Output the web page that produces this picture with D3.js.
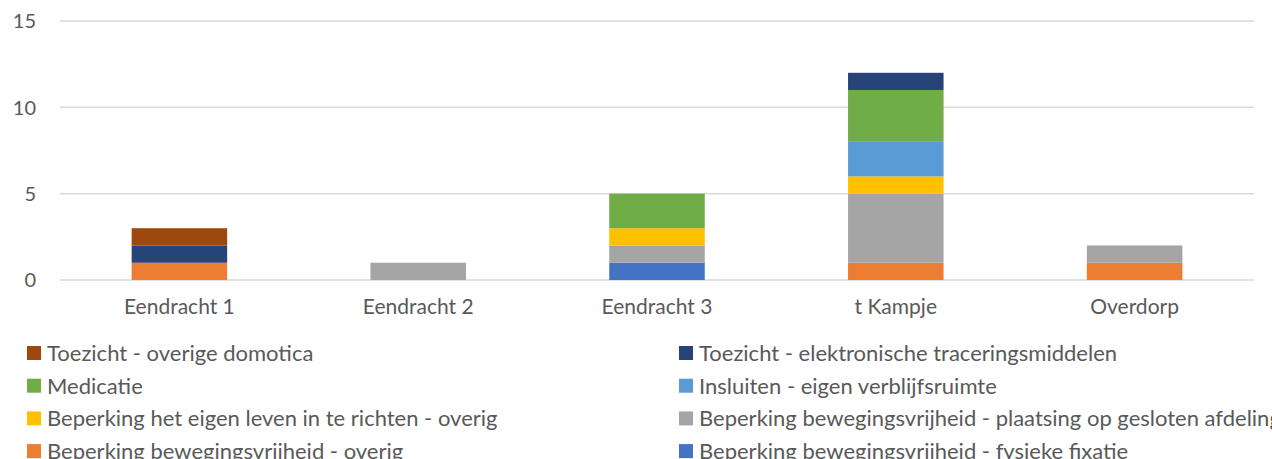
<!DOCTYPE html>
<html>
<head>
<meta charset="utf-8">
<script src="https://cdn.jsdelivr.net/npm/d3@7"></script>
<style>
  body { margin: 0; background: #fff; overflow: hidden; }
  svg { display: block; font-family: Lato, "Open Sans", sans-serif; }
</style>
</head>
<body>
<svg width="1272" height="459"></svg>
<script>
const categories = ["Eendracht 1", "Eendracht 2", "Eendracht 3", "t Kampje", "Overdorp"];

// series in stacking order, bottom first
const seriesNames = [
    "Beperking bewegingsvrijheid - fysieke fixatie",
    "Beperking bewegingsvrijheid - overig",
    "Beperking bewegingsvrijheid - plaatsing op gesloten afdeling",
    "Beperking het eigen leven in te richten - overig",
    "Insluiten - eigen verblijfsruimte",
    "Medicatie",
    "Toezicht - elektronische traceringsmiddelen",
    "Toezicht - overige domotica"
];
const seriesColors = ["#4472C4", "#ED7D31", "#A5A5A5", "#FFC000", "#5B9BD5", "#70AD47", "#264478", "#9E480E"];

// one array per series, values per category
const fysiekeFixatie   = [0, 0, 1, 0, 0];
const bewegingOverig   = [1, 0, 0, 1, 1];
const geslotenAfdeling = [0, 1, 1, 4, 1];
const eigenLevenOverig = [0, 0, 1, 1, 0];
const insluiten        = [0, 0, 0, 2, 0];
const medicatie        = [0, 0, 2, 3, 0];
const elektronisch     = [1, 0, 0, 1, 0];
const domotica         = [1, 0, 0, 0, 0];
const seriesValues = [fysiekeFixatie, bewegingOverig, geslotenAfdeling, eigenLevenOverig,
                      insluiten, medicatie, elektronisch, domotica];

const yTicks = [0, 5, 10, 15];

const svg = d3.select("svg");
const margin = {left: 60, right: 18, top: 21, bottom: 179};
const width = 1272, height = 459;

const x = d3.scaleBand().domain(categories)
    .range([margin.left, width - margin.right])
    .paddingInner(0.6).paddingOuter(0.3);
const y = d3.scaleLinear().domain([0, 15]).range([280, 21]);

// gridlines
svg.append("g").selectAll("line").data(yTicks).join("line")
    .attr("x1", margin.left).attr("x2", width - margin.right)
    .attr("y1", d => y(d)).attr("y2", d => y(d))
    .attr("stroke", "#D9D9D9").attr("stroke-width", 1.5);

// y labels
svg.append("g").selectAll("text").data(yTicks).join("text")
    .attr("x", 36).attr("y", d => y(d)).attr("dy", "0.36em")
    .attr("text-anchor", "end").attr("fill", "#595959").attr("font-size", 20)
    .text(d => d);

const rows = categories.map((c, i) => {
    const r = {cat: c};
    seriesNames.forEach((s, j) => r[s] = seriesValues[j][i]);
    return r;
});
const stacked = d3.stack().keys(seriesNames)(rows);

svg.append("g").selectAll("g").data(stacked).join("g")
    .attr("fill", (d, i) => seriesColors[i])
    .selectAll("rect").data(d => d.filter(p => p[1] > p[0])).join("rect")
    .attr("x", d => x(d.data.cat))
    .attr("width", x.bandwidth())
    .attr("y", d => y(d[1]))
    .attr("height", d => y(d[0]) - y(d[1]));

// category labels
svg.append("g").selectAll("text").data(categories).join("text")
    .attr("x", d => x(d) + x.bandwidth() / 2).attr("y", 314)
    .attr("text-anchor", "middle").attr("fill", "#595959").attr("font-size", 21)
    .text(d => d);

// legend: reversed series, two per row
const legendItems = seriesNames.map((s, i) => ({name: s, color: seriesColors[i]})).reverse();
const legend = svg.append("g").selectAll("g").data(legendItems).join("g")
    .attr("transform", (d, i) => `translate(${i % 2 === 0 ? 27 : 679},${353 + Math.floor(i / 2) * 32.7})`);
legend.append("rect").attr("x", 0).attr("y", -7).attr("width", 14).attr("height", 14)
    .attr("fill", d => d.color);
legend.append("text").attr("x", 20).attr("y", 0).attr("dy", "0.36em")
    .attr("fill", "#595959").attr("font-size", 22)
    .text(d => d.name);
</script>
</body>
</html>
